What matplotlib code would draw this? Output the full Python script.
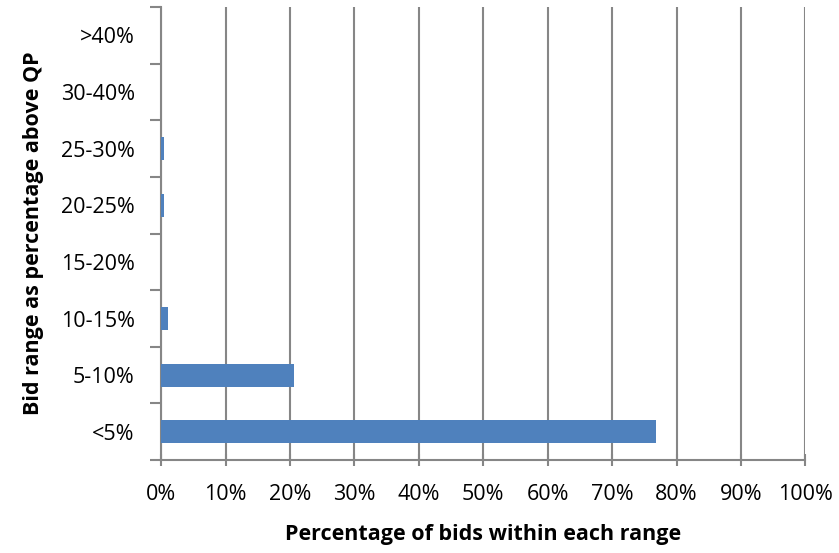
import matplotlib
matplotlib.use("Agg")
import matplotlib.pyplot as plt
from matplotlib.ticker import FixedLocator

# bid ranges, bottom to top
categories = ["<5%", "5-10%", "10-15%", "15-20%", "20-25%", "25-30%", "30-40%", ">40%"]
share = [76.8, 20.7, 1.1, 0.0, 0.45, 0.45, 0.0, 0.0]
xticks = list(range(0, 101, 10))

plt.rcParams['font.family'] = ['Open Sans', 'DejaVu Sans']
axis_col = "#868686"
fs = 15.5

fig = plt.figure(figsize=(8.39, 5.53), dpi=100)
ax = fig.add_axes([0.192, 0.168, 0.768, 0.819])

ax.barh(range(len(categories)), share, height=0.41, color="#4F81BD", zorder=3)

ax.set_xlim(0, 100)
ax.set_ylim(-0.5, len(categories) - 0.5)
ax.set_xticks(xticks)
ax.set_xticklabels(["{}%".format(t) for t in xticks], fontsize=fs)
ax.set_yticks(range(len(categories)))
ax.set_yticklabels(categories, fontsize=fs)
ax.yaxis.set_minor_locator(FixedLocator([i - 0.5 for i in range(len(categories) + 1)]))

ax.grid(axis="x", color=axis_col, linewidth=1.5, zorder=0)
ax.tick_params(axis="y", which="major", length=0, pad=19)
ax.tick_params(axis="y", which="minor", length=8, width=1.5, color=axis_col)
ax.tick_params(axis="x", length=8, width=1.5, color=axis_col, direction="inout", pad=13)

for s in ["top", "right"]:
    ax.spines[s].set_visible(False)
for s in ["left", "bottom"]:
    ax.spines[s].set_color(axis_col)
    ax.spines[s].set_linewidth(1.5)

ax.set_xlabel("Percentage of bids within each range", fontsize=fs, fontweight="bold", labelpad=14)
ax.set_ylabel("Bid range as percentage above QP", fontsize=fs, fontweight="bold", labelpad=12)

fig.savefig("out.png", dpi=100)
